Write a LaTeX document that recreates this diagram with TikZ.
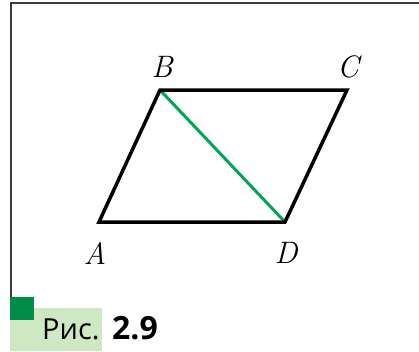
\documentclass[tikz,border=0pt]{standalone}
\usepackage{fontspec}
\newfontfamily\capfont{Open Sans}
\definecolor{frameg}{RGB}{60,60,60}
\definecolor{darkg}{RGB}{0,140,70}
\definecolor{lightg}{RGB}{205,232,195}
\definecolor{diagg}{RGB}{0,165,85}
\begin{document}
\begin{tikzpicture}[x=1pt,y=-1pt,
  edge/.style={line width=3.5pt,line join=miter},
  lbl/.style={font=\itshape\fontsize{31}{31}\selectfont,inner sep=0pt}]
\useasboundingbox (0,0) rectangle (419,351);
% frame
\draw[frameg,line width=2pt] (11,351-53) -- (11,3) -- (419,3);
% caption
\fill[lightg] (10,308) rectangle (102,351);
\fill[darkg] (10,297) rectangle (34,320);
\node[anchor=base west,inner sep=0pt,font=\capfont\fontsize{29}{29}\selectfont] (cap) at (42,339) {Рис.};
\node[anchor=base west,inner sep=0pt,font=\capfont\bfseries\fontsize{32}{32}\selectfont] (num) at (112,339) {2.9};
% vertices
\coordinate (A) at (99,222);
\coordinate (B) at (160,90);
\coordinate (C) at (347,90);
\coordinate (D) at (285,222);
\draw[diagg,line width=3pt] (B) -- (D);
\draw[edge] (A) -- (B) -- (C) -- (D) -- cycle;
\node[lbl] (lA) at (95,253) {A};
\node[lbl] (lB) at (162,67) {B};
\node[lbl] (lC) at (348,67) {C};
\node[lbl] (lD) at (286,253) {D};
\end{tikzpicture}
\end{document}
